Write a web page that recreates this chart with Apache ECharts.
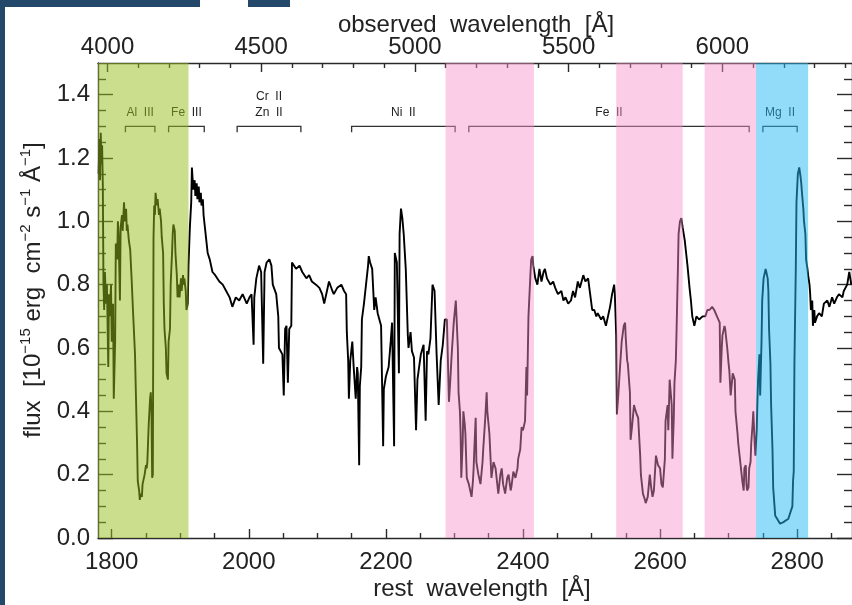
<!DOCTYPE html>
<html><head><meta charset="utf-8">
<script src="https://cdn.jsdelivr.net/npm/echarts@6/dist/echarts.min.js"></script>
<style>html,body{margin:0;padding:0;background:#fff;}#c{width:852px;height:605px;}</style>
</head><body><div id="c"></div>
<script>
// ---- data ----
const restWavelength = [1781,1782,1783,1784,1785,1786,1787,1788,1789,1790,1792,1793,1795,1796,1797,1799,1800,1802,1803,1805,1806,1808,1809,1810,1812,1813,1815,1816,1818,1819,1821,1822,1823,1825,1827,1829,1831,1834,1835,1837,1838,1840,1841,1842,1844,1845,1847,1848,1850,1851,1852,1854,1856,1857,1858,1859,1860,1861,1862,1863,1864,1866,1867,1869,1870,1872,1873,1875,1876,1877,1879,1880,1882,1883,1885,1886,1888,1889,1890,1892,1893,1895,1896,1898,1899,1901,1902,1904,1905,1906,1908,1909,1911,1912,1914,1916,1917,1919,1921,1922,1924,1925,1927,1928,1930,1931,1933,1934,1936,1938,1940,1943,1947,1951,1957,1962,1967,1972,1976,1981,1986,1991,1997,2001,2004,2007,2008,2011,2015,2018,2021,2023,2026,2030,2033,2035,2040,2043,2044,2049,2051,2053,2055,2057,2059,2062,2063,2066,2069,2074,2078,2084,2088,2092,2098,2103,2107,2110,2114,2117,2122,2124,2129,2135,2139,2142,2143,2145,2146,2148,2151,2153,2156,2158,2159,2161,2162,2164,2165,2168,2171,2174,2175,2177,2180,2183,2185,2188,2193,2196,2197,2200,2204,2207,2209,2212,2213,2216,2219,2220,2222,2224,2226,2229,2232,2233,2236,2238,2241,2244,2246,2251,2255,2258,2260,2262,2265,2268,2271,2274,2277,2280,2283,2286,2289,2292,2294,2296,2299,2302,2303,2305,2306,2308,2309,2310,2312,2313,2315,2316,2318,2321,2322,2325,2327,2328,2329,2331,2332,2335,2338,2341,2342,2345,2347,2348,2351,2354,2357,2360,2364,2367,2369,2371,2374,2377,2379,2382,2383,2386,2389,2392,2393,2396,2398,2400,2403,2405,2406,2408,2411,2412,2414,2415,2418,2421,2424,2427,2430,2432,2435,2440,2444,2447,2451,2456,2459,2462,2466,2470,2473,2476,2480,2483,2488,2491,2495,2498,2501,2504,2507,2509,2514,2517,2521,2524,2527,2530,2533,2534,2536,2537,2539,2541,2544,2547,2549,2550,2552,2553,2556,2557,2559,2562,2563,2566,2568,2571,2572,2575,2578,2579,2582,2585,2587,2589,2591,2594,2597,2600,2602,2604,2607,2608,2611,2612,2614,2617,2618,2620,2621,2623,2624,2626,2627,2629,2631,2633,2636,2638,2640,2643,2645,2647,2650,2653,2657,2662,2666,2669,2672,2676,2679,2683,2687,2688,2690,2691,2694,2695,2698,2700,2701,2703,2706,2709,2710,2713,2714,2716,2718,2720,2722,2723,2725,2726,2727,2729,2730,2732,2733,2735,2736,2738,2739,2741,2742,2743,2745,2746,2748,2749,2751,2754,2755,2757,2758,2759,2761,2762,2764,2765,2767,2768,2771,2775,2780,2783,2787,2790,2793,2794,2795,2796,2798,2799,2801,2803,2805,2806,2807,2809,2810,2812,2813,2815,2816,2818,2819,2820,2822,2823,2825,2826,2829,2832,2836,2839,2844,2847,2851,2854,2858,2861,2866,2868,2873,2876,2879];
const flux = [1.15,1.26,1.13,1.28,1.18,1.24,1.12,0.80,0.72,0.84,0.74,0.80,0.54,0.77,0.70,0.80,0.62,0.74,0.44,0.62,0.93,0.88,1.00,0.96,0.75,0.98,1.02,0.97,1.06,1.00,1.04,0.97,0.99,0.94,0.91,0.82,0.72,0.58,0.48,0.30,0.18,0.15,0.12,0.14,0.13,0.17,0.19,0.20,0.23,0.22,0.24,0.36,0.44,0.46,0.40,0.19,0.20,0.95,1.05,1.02,1.09,1.05,1.07,1.02,1.04,1.00,0.95,0.90,0.74,0.66,0.60,0.52,0.50,0.62,0.66,0.80,0.90,0.96,0.99,0.97,0.90,0.83,0.76,0.80,0.76,0.82,0.78,0.83,0.80,0.82,0.78,0.72,0.74,0.86,0.98,1.06,1.17,1.10,1.13,1.08,1.12,1.07,1.11,1.06,1.09,1.05,1.07,1.02,0.98,0.94,0.90,0.88,0.84,0.83,0.81,0.80,0.78,0.76,0.73,0.76,0.75,0.77,0.74,0.76,0.77,0.61,0.76,0.82,0.86,0.84,0.55,0.84,0.87,0.88,0.86,0.80,0.77,0.70,0.60,0.58,0.45,0.66,0.67,0.49,0.66,0.67,0.87,0.86,0.85,0.86,0.84,0.82,0.83,0.81,0.80,0.79,0.77,0.74,0.78,0.81,0.78,0.77,0.79,0.80,0.78,0.77,0.65,0.56,0.44,0.56,0.62,0.54,0.44,0.54,0.52,0.23,0.48,0.54,0.69,0.74,0.80,0.86,0.89,0.87,0.85,0.72,0.76,0.71,0.67,0.29,0.47,0.51,0.54,0.62,0.68,0.29,0.90,0.87,0.52,0.96,1.04,1.01,0.96,0.85,0.64,0.60,0.65,0.59,0.57,0.34,0.50,0.58,0.61,0.37,0.59,0.58,0.63,0.80,0.78,0.58,0.42,0.56,0.61,0.69,0.69,0.43,0.50,0.58,0.68,0.75,0.70,0.60,0.46,0.40,0.33,0.19,0.30,0.40,0.36,0.33,0.19,0.17,0.16,0.13,0.18,0.22,0.28,0.38,0.24,0.20,0.17,0.24,0.28,0.38,0.46,0.40,0.33,0.19,0.24,0.22,0.14,0.20,0.22,0.17,0.14,0.19,0.20,0.15,0.16,0.21,0.19,0.22,0.25,0.28,0.35,0.34,0.37,0.54,0.45,0.70,0.84,0.88,0.89,0.86,0.82,0.80,0.85,0.81,0.84,0.85,0.82,0.80,0.81,0.79,0.77,0.78,0.75,0.76,0.74,0.75,0.78,0.76,0.81,0.79,0.83,0.81,0.82,0.77,0.72,0.72,0.70,0.71,0.69,0.70,0.67,0.70,0.73,0.77,0.80,0.77,0.64,0.39,0.45,0.52,0.62,0.67,0.68,0.63,0.56,0.55,0.46,0.31,0.35,0.42,0.41,0.39,0.38,0.26,0.20,0.14,0.12,0.11,0.13,0.20,0.16,0.13,0.15,0.26,0.23,0.22,0.17,0.16,0.25,0.37,0.42,0.34,0.50,0.42,0.25,0.38,0.49,0.56,0.65,0.85,0.96,1.00,1.01,0.98,0.94,0.90,0.86,0.79,0.75,0.70,0.67,0.70,0.69,0.70,0.70,0.72,0.72,0.73,0.72,0.70,0.68,0.49,0.60,0.64,0.67,0.66,0.60,0.55,0.53,0.45,0.52,0.50,0.40,0.33,0.30,0.26,0.22,0.18,0.15,0.22,0.23,0.17,0.15,0.16,0.22,0.24,0.30,0.36,0.40,0.30,0.26,0.34,0.43,0.50,0.58,0.45,0.62,0.75,0.82,0.85,0.84,0.82,0.78,0.66,0.55,0.42,0.28,0.16,0.10,0.07,0.06,0.045,0.05,0.055,0.06,0.08,0.10,0.18,0.21,0.55,0.85,1.06,1.15,1.17,1.14,1.12,1.09,1.04,1.00,0.96,0.88,0.85,0.83,0.80,0.77,0.72,0.75,0.67,0.72,0.68,0.70,0.71,0.70,0.74,0.75,0.73,0.76,0.74,0.76,0.77,0.76,0.78,0.80,0.84,0.80];

const restTicks = [1800, 2000, 2200, 2400, 2600, 2800];
const restMinorTicks = [1850, 1900, 1950, 2050, 2100, 2150, 2250, 2300, 2350, 2450, 2500, 2550, 2650, 2700, 2750, 2850];
const obsTicks = [4000, 4500, 5000, 5500, 6000];
const obsMinorTicks = [4100, 4200, 4300, 4400, 4600, 4700, 4800, 4900, 5100, 5200, 5300, 5400, 5600, 5700, 5800, 5900, 6100, 6200, 6300, 6400];
const fluxTicks = [0, 0.2, 0.4, 0.6, 0.8, 1.0, 1.2, 1.4];
const fluxMinorTicks = [0.05, 0.1, 0.15, 0.25, 0.3, 0.35, 0.45, 0.5, 0.55, 0.65, 0.7, 0.75, 0.85, 0.9, 0.95, 1.05, 1.1, 1.15, 1.25, 1.3, 1.35, 1.45];

const restRange = [1780, 2880];
const obsRange = [3969, 6422];
const fluxRange = [0, 1.5];

// shaded bands: [start, end, kind]  kind 0 = green, 1 = pink, 2 = blue
const bandStart = [1780, 2287, 2536, 2665, 2740];
const bandEnd   = [1912, 2416, 2633, 2740, 2816];
const bandKind  = [0, 1, 1, 1, 2];

// ion brackets
const ionLabels = ['Al  III', 'Fe  III', 'Cr  II\nZn  II', 'Ni  II', 'Fe  II', 'Mg  II'];
const ionStart  = [1820, 1883, 1983, 2150, 2321, 2750];
const ionEnd    = [1863, 1935, 2076, 2301, 2730, 2800];
const bracketFlux = 1.30;

// ---- chart ----
const FONT = "'Liberation Sans', Arial, sans-serif";
const AX = { color: '#2a2a2a', width: 1.4 };
const bandColors = ['rgba(150,190,30,0.5)', 'rgba(248,144,199,0.45)', 'rgba(37,185,245,0.5)'];

function xAx(pos, range, ticks, len, labels, line) {
  return {
    type: 'value', position: pos, min: range[0], max: range[1],
    axisLine: { show: line, onZero: false, lineStyle: AX },
    splitLine: { show: false },
    axisTick: { show: true, inside: true, length: len, customValues: ticks, lineStyle: AX },
    axisLabel: labels ? { show: true, customValues: ticks, margin: pos === 'top' ? 4 : 12, fontSize: 24, color: '#222', fontFamily: FONT, formatter: v => String(v) } : { show: false }
  };
}
function yAx(pos, ticks, len, labels, line) {
  return {
    type: 'value', position: pos, min: fluxRange[0], max: fluxRange[1],
    axisLine: { show: line, onZero: false, lineStyle: AX },
    splitLine: { show: false },
    axisTick: { show: true, inside: true, length: len, customValues: ticks, lineStyle: AX },
    axisLabel: labels ? { show: true, customValues: ticks, margin: 8, fontSize: 24, color: '#222', fontFamily: FONT, formatter: v => v.toFixed(1) } : { show: false }
  };
}

const chart = echarts.init(document.getElementById('c'), null, { renderer: 'canvas' });
chart.setOption({
  animation: false,
  backgroundColor: '#ffffff',
  grid: { left: 98, top: 63, width: 757, height: 475, containLabel: false },
  xAxis: [
    xAx('bottom', restRange, restTicks, 9, true, true),
    xAx('bottom', restRange, restMinorTicks, 5, false, false),
    xAx('top', obsRange, obsTicks, 9, true, true),
    xAx('top', obsRange, obsMinorTicks, 5, false, false)
  ],
  yAxis: [
    yAx('left', fluxTicks, 15, true, true),
    yAx('left', fluxMinorTicks, 8, false, false),
    yAx('right', fluxTicks, 15, false, true),
    yAx('right', fluxMinorTicks, 8, false, false)
  ],
  graphic: [
    { type: 'rect', shape: { x: 0, y: 0, width: 200, height: 7 }, style: { fill: '#23486a' } },
    { type: 'rect', shape: { x: 248, y: 0, width: 42, height: 7 }, style: { fill: '#23486a' } },
    { type: 'rect', shape: { x: 0, y: 0, width: 5, height: 605 }, style: { fill: '#23486a' } },
    { type: 'text', x: 476, y: 25, style: { text: 'observed  wavelength  [Å]', fontSize: 24, fontFamily: FONT, fill: '#222', align: 'center', verticalAlign: 'middle' } },
    { type: 'text', x: 482, y: 589, style: { text: 'rest  wavelength  [Å]', fontSize: 24, fontFamily: FONT, fill: '#222', align: 'center', verticalAlign: 'middle' } },
    { type: 'text', x: 33, y: 290, rotation: Math.PI / 2,
      style: { text: 'flux  [10{s|−15} erg  cm{s|−2} s{s|−1} Å{s|−1}]', fontSize: 24, fontFamily: FONT, fill: '#222', align: 'center', verticalAlign: 'middle', lineHeight: 30,
        rich: { s: { fontSize: 15, fontFamily: FONT, fill: '#222', lineHeight: 16, verticalAlign: 'top' } } } }
  ],
  series: [
    {
      type: 'line', name: 'spectrum', xAxisIndex: 0, yAxisIndex: 0,
      data: restWavelength.map((w, i) => [w, flux[i]]),
      showSymbol: false, symbol: 'none', smooth: false,
      lineStyle: { color: '#000', width: 1.9 }, z: 2, silent: true
    },
    {
      type: 'custom', name: 'ions', xAxisIndex: 0, yAxisIndex: 0, z: 3, silent: true,
      data: ionStart.map((s, i) => [s, ionEnd[i], i]),
      renderItem: function (params, api) {
        const a = api.coord([api.value(0), bracketFlux]);
        const b = api.coord([api.value(1), bracketFlux]);
        const label = ionLabels[api.value(2)];
        return {
          type: 'group',
          children: [
            { type: 'polyline', shape: { points: [[a[0], a[1] + 6], [a[0], a[1]], [b[0], b[1]], [b[0], b[1] + 6]] },
              style: { stroke: '#333', lineWidth: 1.3, fill: null } },
            { type: 'text', style: { text: label, x: (a[0] + b[0]) / 2, y: a[1] - 6, align: 'center', verticalAlign: 'bottom',
              fontSize: 12, fontFamily: FONT, fill: '#222', lineHeight: 16 } }
          ]
        };
      }
    },
    {
      type: 'custom', name: 'bands', xAxisIndex: 0, yAxisIndex: 0, z: 10, silent: true,
      data: bandStart.map((s, i) => [s, bandEnd[i], bandKind[i]]),
      renderItem: function (params, api) {
        const p0 = api.coord([api.value(0), 0]);
        const p1 = api.coord([api.value(1), 0]);
        const cs = params.coordSys;
        return { type: 'rect', shape: { x: p0[0], y: cs.y, width: p1[0] - p0[0], height: cs.height },
          style: { fill: bandColors[api.value(2)] } };
      }
    }
  ]
});
</script>
</body></html>
